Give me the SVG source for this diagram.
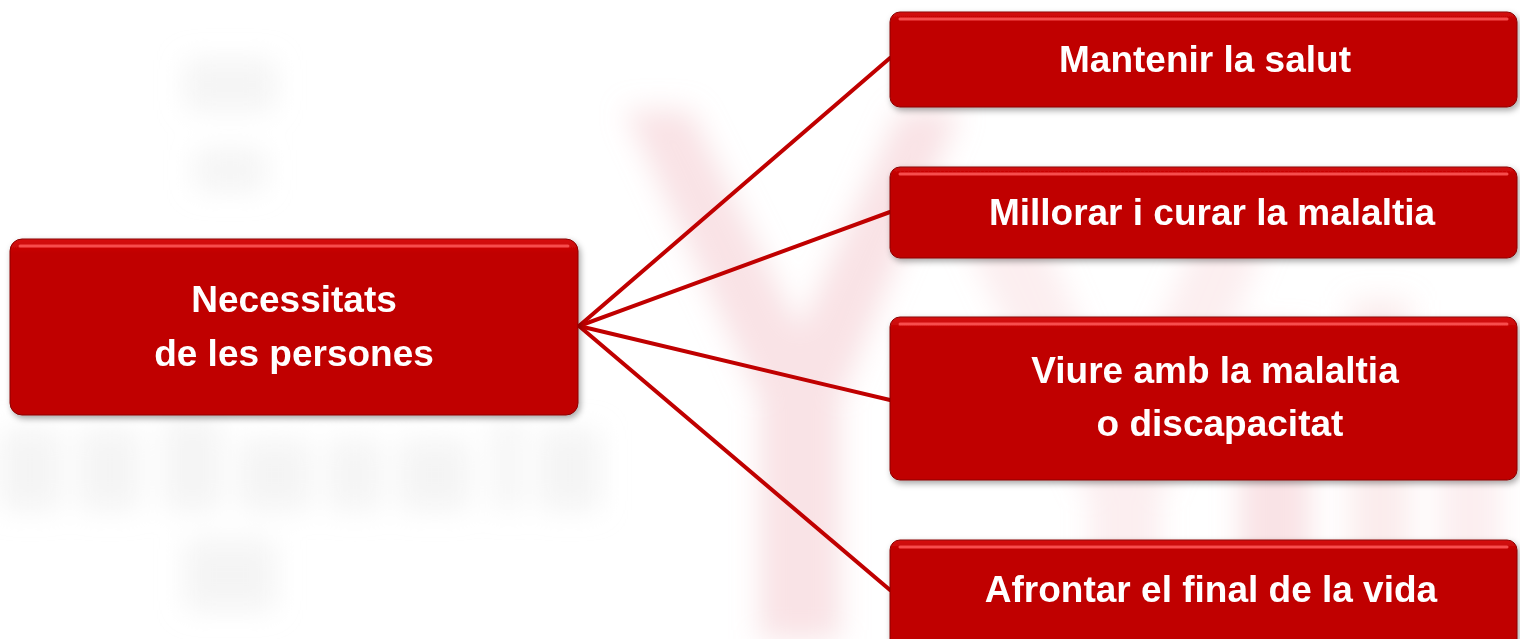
<svg xmlns="http://www.w3.org/2000/svg" width="1520" height="639" viewBox="0 0 1520 639">
<style>
.box{fill:url(#boxg);stroke:#8a0000;stroke-width:1}
.hl{fill:none;stroke:#ff5a5a;stroke-width:3;stroke-linecap:round;opacity:.85}
.lbl{font-family:"Liberation Sans",Arial,sans-serif;font-weight:bold;font-size:37px;fill:#ffffff;text-anchor:middle}
.con{stroke:#c00000;stroke-width:4;fill:none;stroke-linecap:round}
.wm{filter:url(#blur)}
</style>
<defs>
<linearGradient id="boxg" x1="0" y1="0" x2="0" y2="1">
<stop offset="0" stop-color="#d81010"/>
<stop offset="0.08" stop-color="#c00000"/>
<stop offset="1" stop-color="#c00000"/>
</linearGradient>
<filter id="blur" x="-20%" y="-20%" width="140%" height="140%"><feGaussianBlur stdDeviation="14"/></filter>
<filter id="sh" x="-5%" y="-10%" width="110%" height="130%"><feDropShadow dx="2" dy="3" stdDeviation="3" flood-color="#000" flood-opacity="0.35"/></filter>
</defs>
<rect width="1520" height="639" fill="#ffffff"/>
<g id="watermark" class="wm">
<g fill="#f3c7cc" opacity="0.5">
<path d="M625 110 L690 110 L800 330 L900 110 L960 110 L840 400 L840 639 L760 639 L760 400 Z"/>
<path d="M960 230 L1040 230 L1120 420 L1200 230 L1270 230 L1160 500 L1160 639 L1090 639 L1090 500 Z" opacity="0.6"/>
<rect x="1240" y="330" width="70" height="309"/>
<rect x="1350" y="300" width="60" height="339" opacity="0.7"/>
<rect x="1440" y="360" width="60" height="279" opacity="0.6"/>
</g>
<g fill="#e6e6e6" opacity="0.45">
<rect x="0" y="430" width="60" height="80"/>
<rect x="80" y="430" width="60" height="80"/>
<rect x="165" y="420" width="55" height="90"/>
<rect x="240" y="440" width="70" height="70"/>
<rect x="330" y="440" width="50" height="70"/>
<rect x="400" y="440" width="70" height="70"/>
<rect x="495" y="420" width="25" height="90"/>
<rect x="540" y="430" width="60" height="80"/>
<rect x="185" y="60" width="90" height="50"/>
<rect x="195" y="150" width="70" height="40"/>
<rect x="185" y="540" width="90" height="70"/>
</g>
</g>
<g id="connectors">
<line class="con" x1="579" y1="326" x2="890" y2="58"/>
<line class="con" x1="579" y1="326" x2="890" y2="212"/>
<line class="con" x1="579" y1="326" x2="890" y2="400"/>
<line class="con" x1="579" y1="326" x2="890" y2="590"/>
</g>
<g id="node-necessitats" filter="url(#sh)">
<rect class="box" x="10" y="239" width="568" height="176" rx="12"/>
<line class="hl" x1="20" y1="246" x2="568" y2="246"/>
<text class="lbl" x="294" y="312">Necessitats</text>
<text class="lbl" x="294" y="366">de les persones</text>
</g>
<g id="node-salut" filter="url(#sh)">
<rect class="box" x="890" y="12" width="627" height="95" rx="10"/>
<line class="hl" x1="900" y1="19" x2="1507" y2="19"/>
<text class="lbl" x="1205" y="72">Mantenir la salut</text>
</g>
<g id="node-curar" filter="url(#sh)">
<rect class="box" x="890" y="167" width="627" height="91" rx="10"/>
<line class="hl" x1="900" y1="174" x2="1507" y2="174"/>
<text class="lbl" x="1212" y="225">Millorar i curar la malaltia</text>
</g>
<g id="node-viure" filter="url(#sh)">
<rect class="box" x="890" y="317" width="627" height="163" rx="10"/>
<line class="hl" x1="900" y1="324" x2="1507" y2="324"/>
<text class="lbl" x="1215" y="383">Viure amb la malaltia</text>
<text class="lbl" x="1220" y="436">o discapacitat</text>
</g>
<g id="node-final" filter="url(#sh)">
<rect class="box" x="890" y="540" width="627" height="120" rx="10"/>
<line class="hl" x1="900" y1="547" x2="1507" y2="547"/>
<text class="lbl" x="1211" y="602">Afrontar el final de la vida</text>
</g>
</svg>
